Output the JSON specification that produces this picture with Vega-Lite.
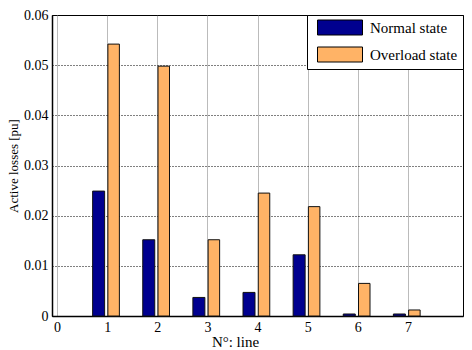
{
  "$schema": "https://vega.github.io/schema/vega-lite/v6.json",
  "width": 411,
  "height": 301,
  "autosize": {"type": "none"},
  "padding": {"left": 52, "top": 15, "right": 9, "bottom": 34},
  "background": "white",
  "config": {
    "view": {"stroke": "black", "strokeWidth": 1},
    "font": "Liberation Serif",
    "axis": {
      "labelFont": "Liberation Serif",
      "titleFont": "Liberation Serif",
      "labelColor": "black",
      "titleColor": "black",
      "titleFontWeight": "normal",
      "domainColor": "black",
      "domainWidth": 1.5,
      "ticks": false
    }
  },
  "data": {
    "values": [
      {"line": 1, "state": "Normal state", "loss": 0.0249},
      {"line": 2, "state": "Normal state", "loss": 0.0152},
      {"line": 3, "state": "Normal state", "loss": 0.0037},
      {"line": 4, "state": "Normal state", "loss": 0.0047},
      {"line": 5, "state": "Normal state", "loss": 0.0122},
      {"line": 6, "state": "Normal state", "loss": 0.0004},
      {"line": 7, "state": "Normal state", "loss": 0.0004},
      {"line": 1, "state": "Overload state", "loss": 0.0542},
      {"line": 2, "state": "Overload state", "loss": 0.0498},
      {"line": 3, "state": "Overload state", "loss": 0.0152},
      {"line": 4, "state": "Overload state", "loss": 0.0245},
      {"line": 5, "state": "Overload state", "loss": 0.0218},
      {"line": 6, "state": "Overload state", "loss": 0.0065},
      {"line": 7, "state": "Overload state", "loss": 0.0012}
    ]
  },
  "encoding": {
    "x": {
      "field": "line",
      "type": "quantitative",
      "scale": {"domain": [0, 8], "nice": false, "zero": false},
      "axis": {
        "values": [0, 1, 2, 3, 4, 5, 6, 7],
        "title": "N°: line",
        "titleFontSize": 15,
        "titleX": 183,
        "titleY": 18,
        "titleBaseline": "top",
        "labelFontSize": 14,
        "labelPadding": 4,
        "grid": true,
        "gridColor": "#777",
        "gridDash": [1, 1],
        "gridWidth": 1
      }
    },
    "y": {
      "field": "loss",
      "type": "quantitative",
      "scale": {"domain": [0, 0.06], "nice": false},
      "axis": {
        "values": [0, 0.01, 0.02, 0.03, 0.04, 0.05, 0.06],
        "labelExpr": "datum.value == 0 ? '0' : format(datum.value, '.2f')",
        "title": "Active losses [pu]",
        "titleFontSize": 13,
        "titlePadding": 3,
        "labelFontSize": 14,
        "labelPadding": 4,
        "grid": true,
        "gridColor": "black",
        "gridDash": [1, 2],
        "gridWidth": 1
      }
    },
    "color": {
      "field": "state",
      "type": "nominal",
      "scale": {"domain": ["Normal state", "Overload state"], "range": ["#00008F", "#FFB366"]},
      "legend": {
        "title": null,
        "orient": "top-right",
        "offset": 0,
        "fillColor": "white",
        "strokeColor": "black",
        "padding": 5,
        "rowPadding": 8,
        "symbolType": "M-0.4,-1.5H8.6V1.5H-0.4Z",
        "symbolSize": 100,
        "symbolStrokeColor": "black",
        "symbolStrokeWidth": 1,
        "symbolOpacity": 1,
        "labelFont": "Liberation Serif",
        "labelFontSize": 15,
        "labelColor": "black",
        "labelOffset": 43
      }
    }
  },
  "layer": [
    {
      "transform": [{"filter": "datum.state == 'Normal state'"}],
      "mark": {"type": "bar", "size": 12, "xOffset": -8.5, "stroke": "#111", "strokeWidth": 1}
    },
    {
      "transform": [{"filter": "datum.state == 'Overload state'"}],
      "mark": {"type": "bar", "size": 11.5, "xOffset": 6.5, "stroke": "#111", "strokeWidth": 1}
    }
  ]
}
